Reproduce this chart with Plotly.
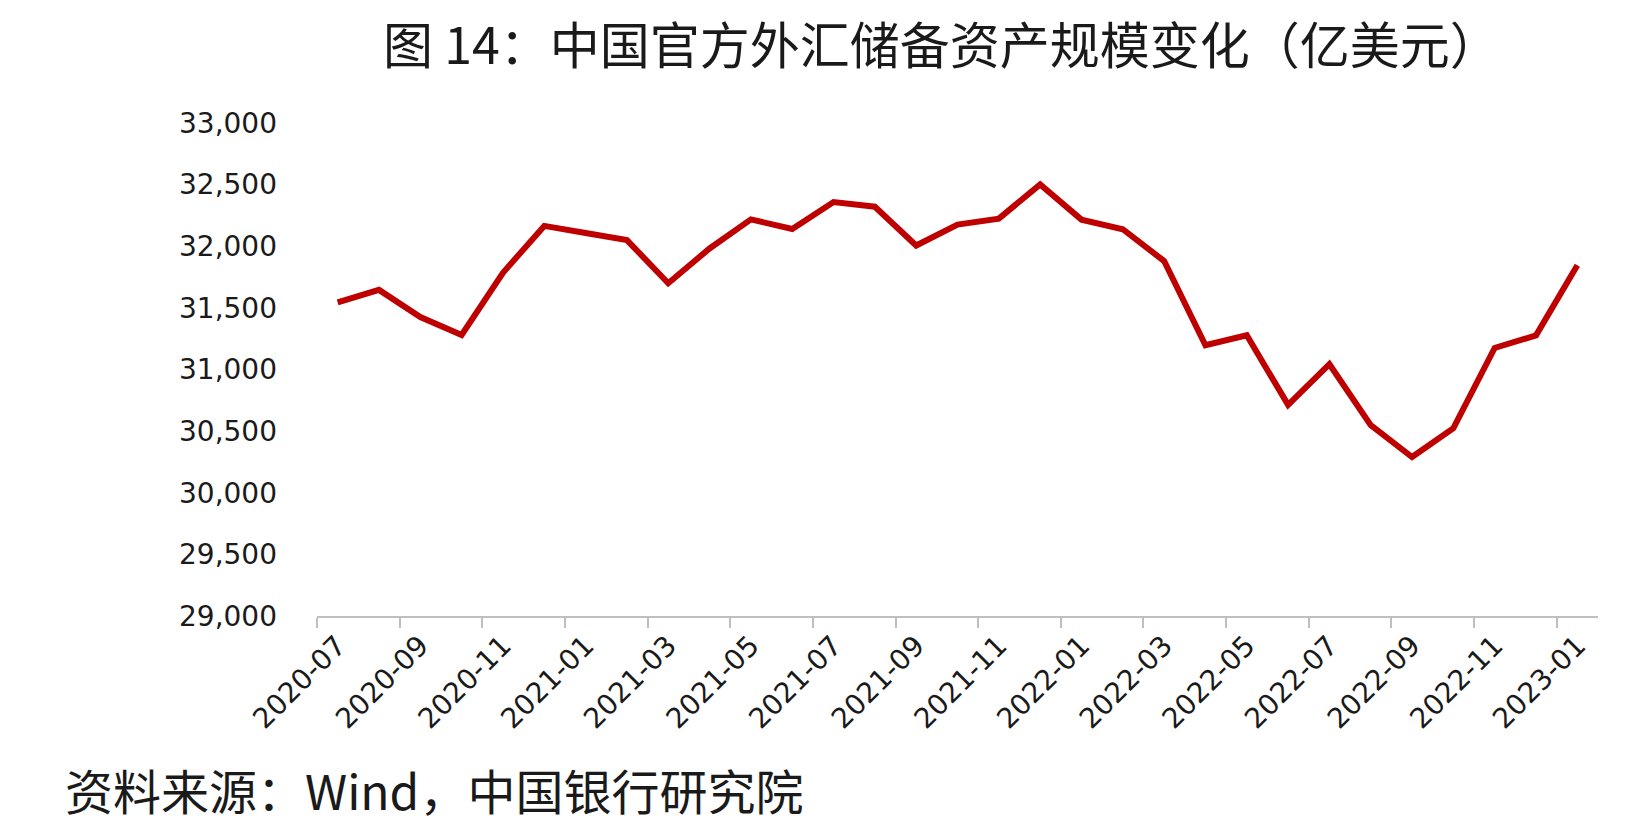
import plotly.graph_objects as go

months = ["2020-07", "2020-08", "2020-09", "2020-10", "2020-11", "2020-12",
          "2021-01", "2021-02", "2021-03", "2021-04", "2021-05", "2021-06",
          "2021-07", "2021-08", "2021-09", "2021-10", "2021-11", "2021-12",
          "2022-01", "2022-02", "2022-03", "2022-04", "2022-05", "2022-06",
          "2022-07", "2022-08", "2022-09", "2022-10", "2022-11", "2022-12",
          "2023-01"]
reserves = [31544, 31646, 31426, 31280, 31785, 32165,
            32107, 32050, 31700, 31982, 32218, 32140,
            32359, 32321, 32006, 32176, 32224, 32502,
            32216, 32138, 31880, 31197, 31278, 30713,
            31043, 30549, 30290, 30524, 31175, 31277,
            31845]
y_ticks = [29000, 29500, 30000, 30500, 31000, 31500, 32000, 32500, 33000]
title_text = "图 14：中国官方外汇储备资产规模变化（亿美元）"
source_text = "资料来源：Wind，中国银行研究院"

idx = list(range(len(months)))
label_idx = idx[::2]
label_text = [months[i] for i in label_idx]

fig = go.Figure()
fig.add_trace(go.Scatter(
    x=idx, y=reserves, mode="lines",
    line=dict(color="#BE0000", width=6),
    hoverinfo="skip", showlegend=False,
))

fig.update_layout(
    width=1644, height=827,
    margin=dict(l=317, r=46, t=123, b=211),
    paper_bgcolor="white", plot_bgcolor="white",
    font=dict(family="DejaVu Sans", color="#1a1a1a"),
    xaxis=dict(
        range=[-0.5, 30.5],
        tickmode="array", tickvals=label_idx, ticktext=label_text,
        tickangle=-45, ticks="",
        tickfont=dict(family="DejaVu Sans", size=28, color="#1a1a1a"),
        showline=True, linecolor="#BFBFBF", linewidth=2,
        showgrid=False, zeroline=False,
        minor=dict(tick0=-0.5, dtick=2, ticks="outside", ticklen=10,
                   tickcolor="#BFBFBF", tickwidth=2, showgrid=False),
    ),
    yaxis=dict(
        range=[29000, 33000],
        tickmode="array", tickvals=y_ticks,
        ticktext=[f"{v:,}" for v in y_ticks],
        tickfont=dict(family="DejaVu Sans", size=28, color="#1a1a1a"),
        showline=False, showgrid=False, zeroline=False,
        ticks="", ticklabelstandoff=39,
    ),
    annotations=[
        dict(text=title_text, xref="paper", yref="paper",
             x=(941 - 317) / (1598 - 317), y=1 + (123 - 42) / (616 - 123),
             xanchor="center", yanchor="middle", showarrow=False,
             font=dict(family="Noto Sans CJK SC", size=50, color="#1a1a1a")),
        dict(text=source_text, xref="paper", yref="paper",
             x=(63 - 317) / (1598 - 317), y=-(789 - 616) / (616 - 123),
             xanchor="left", yanchor="middle", showarrow=False,
             font=dict(family="Noto Sans CJK SC", size=48, color="#1a1a1a")),
    ],
)

fig.write_html("out.html")
